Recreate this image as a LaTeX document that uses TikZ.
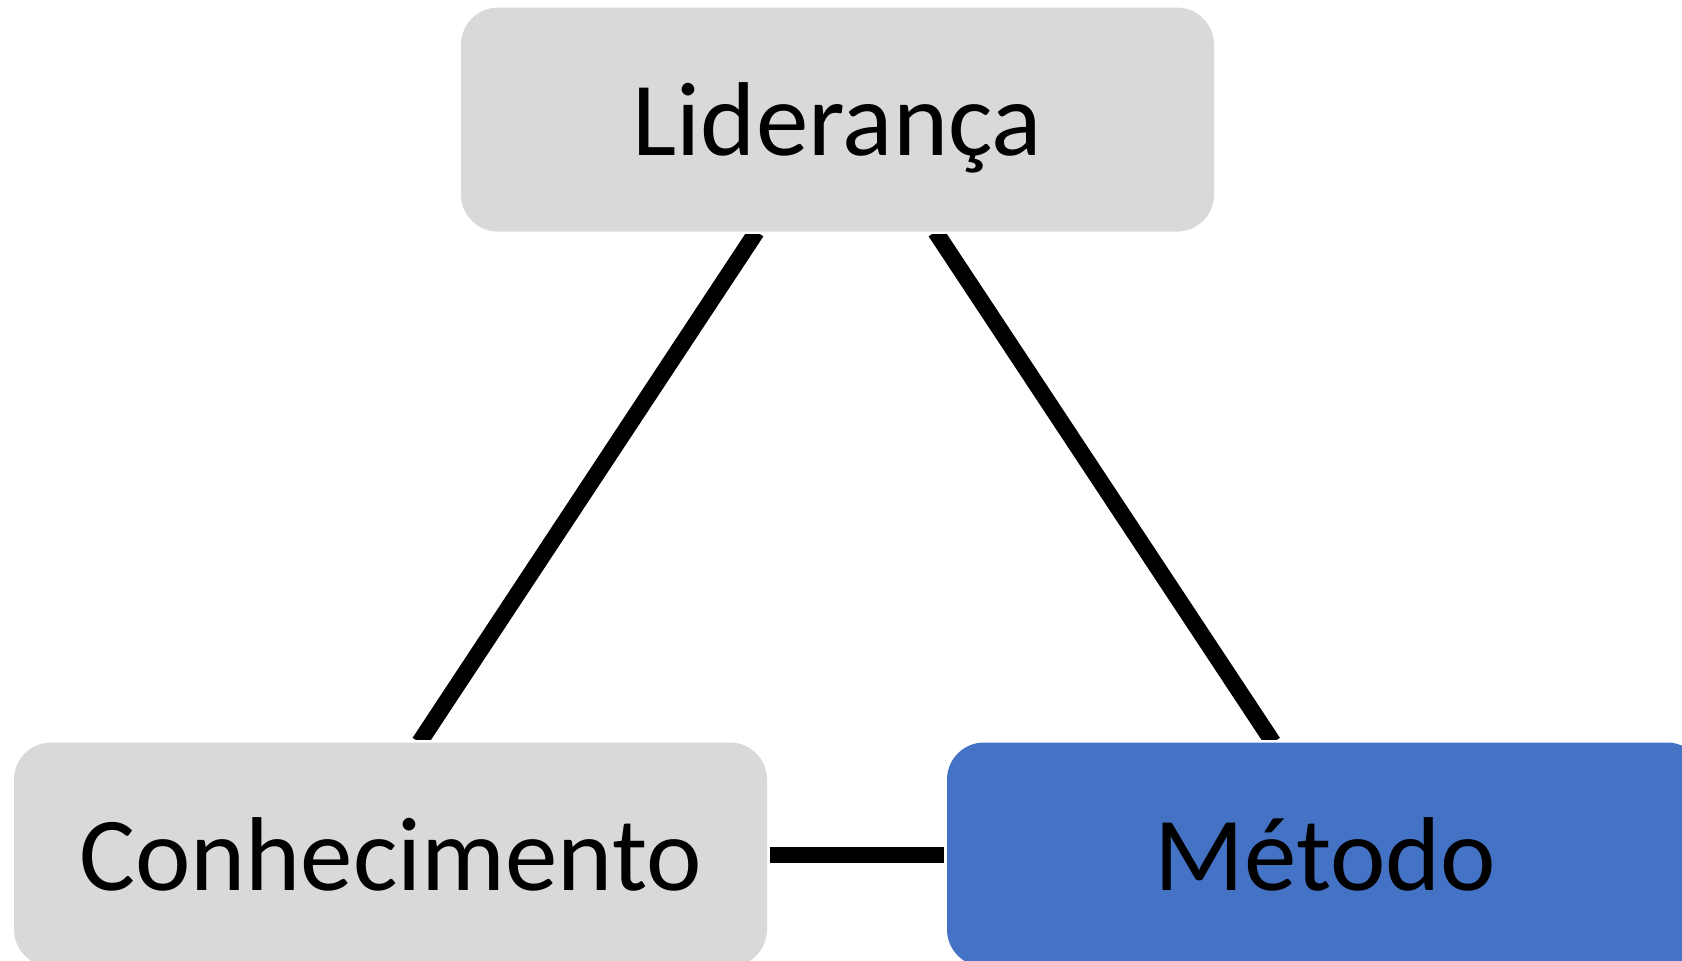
\documentclass[tikz,border=0pt]{standalone}
\usepackage{fontspec}
\setmainfont{Carlito}
\usetikzlibrary{calc}
\definecolor{boxgray}{HTML}{D9D9D9}
\definecolor{boxblue}{HTML}{4472C4}
\tikzset{
  conceptbox/.style={rectangle, rounded corners=37pt, inner sep=0pt,
    minimum width=753pt, minimum height=224pt,
    font=\fontsize{105}{120}\selectfont, text height=72pt, text depth=1pt},
  link/.style={line width=16.5pt, black}
}
\begin{document}
\begin{tikzpicture}[x=1pt,y=-1pt]
\useasboundingbox (0,0) rectangle (1682,961);
\clip (0,0) rectangle (1682,961);
\node[conceptbox, fill=boxgray] (L) at (837.5,119.6) {Liderança};
\node[conceptbox, fill=boxgray] (C) at (390.5,854.5) {Conhecimento};
\node[conceptbox, fill=boxblue, minimum width=757pt] (M) at (1325.5,854.5) {Método};
\begin{scope}
  \clip (0,234) rectangle (1682,739);
  \draw[link] ($(L.south)+(-81,0)$) -- ($(C.north)+(29,0)$);
  \draw[link] ($(L.south)+(98,0)$) -- ($(M.north)+(-52.5,0)$);
\end{scope}
\draw[link, line width=16pt, shorten <=3pt, shorten >=3pt] (C.east) -- (M.west);
\end{tikzpicture}
\end{document}
